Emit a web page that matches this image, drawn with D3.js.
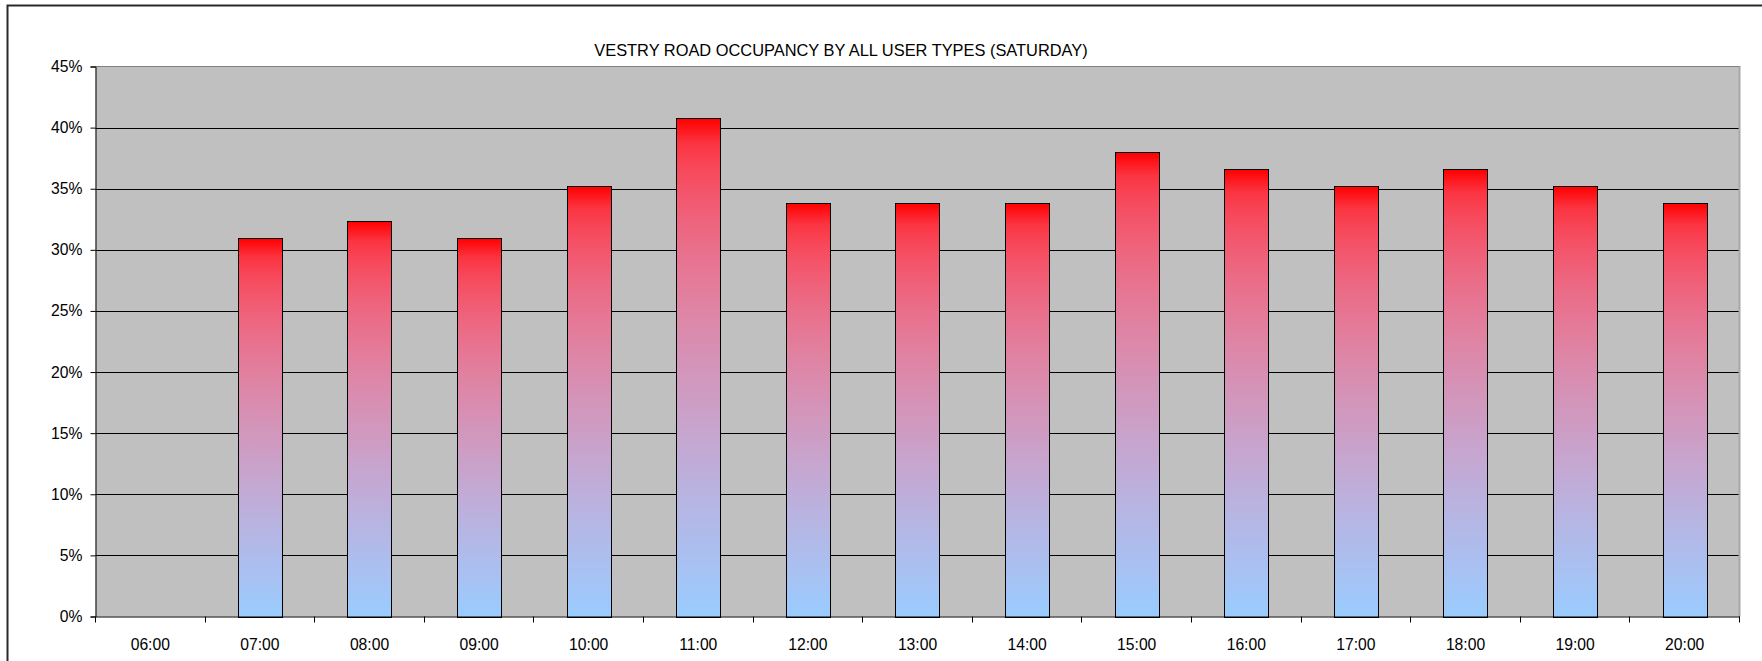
<!DOCTYPE html>
<html>
<head>
<meta charset="utf-8">
<script src="https://cdn.jsdelivr.net/npm/d3@7"></script>
<style>
  html, body { margin: 0; padding: 0; background: #ffffff; }
  svg { display: block; }
  text { font-family: Arial, "Liberation Sans", sans-serif; fill: #000; }
</style>
</head>
<body>
<svg id="chart" width="1762" height="661"></svg>
<script>
// Hourly occupancy, Saturday
const title = "VESTRY ROAD OCCUPANCY BY ALL USER TYPES (SATURDAY)";
const hours = ["06:00", "07:00", "08:00", "09:00", "10:00", "11:00", "12:00", "13:00",
               "14:00", "15:00", "16:00", "17:00", "18:00", "19:00", "20:00"];
const occupancy = [null, 0.310, 0.324, 0.310, 0.352, 0.408, 0.338, 0.338,
                   0.338, 0.380, 0.366, 0.352, 0.366, 0.352, 0.338];
const yTicks = [0, 0.05, 0.10, 0.15, 0.20, 0.25, 0.30, 0.35, 0.40, 0.45];

const svg = d3.select("#chart");
const W = 1762, H = 661;
const tickFont = "15.7px";

// plot area
const plot = { left: 95.5, top: 66.5, right: 1739.5, bottom: 616.5 };

// outer chart frame (only the top and left edges fall inside the window)
svg.append("path")
  .attr("d", `M7.5,${H + 5} V5.5 H${W + 5}`)
  .attr("fill", "none")
  .attr("stroke", "#2a2a2a")
  .attr("stroke-width", 2);

svg.append("text")
  .attr("x", 841)
  .attr("y", 56)
  .attr("text-anchor", "middle")
  .style("font-size", "16.4px")
  .text(title);

const pad = 0.595;
const x = d3.scaleBand()
  .domain(hours)
  .range([plot.left, plot.right])
  .paddingInner(pad)
  .paddingOuter(pad / 2);

const y = d3.scaleLinear()
  .domain([0, 0.45])
  .range([plot.bottom, plot.top]);

// plot background
svg.append("rect")
  .attr("x", plot.left).attr("y", plot.top)
  .attr("width", plot.right - plot.left)
  .attr("height", plot.bottom - plot.top)
  .attr("fill", "#c0c0c0");

// horizontal gridlines
svg.append("g")
  .selectAll("line")
  .data(yTicks.filter(t => t > 0 && t < 0.45))
  .join("line")
  .attr("x1", plot.left).attr("x2", plot.right)
  .attr("y1", d => Math.round(y(d)) + 0.5)
  .attr("y2", d => Math.round(y(d)) + 0.5)
  .attr("stroke", "#000")
  .attr("stroke-width", 1);

// plot border: grey top and right
svg.append("line")
  .attr("x1", plot.left).attr("x2", plot.right + 1)
  .attr("y1", plot.top).attr("y2", plot.top)
  .attr("stroke", "#808080").attr("stroke-width", 1);
svg.append("line")
  .attr("x1", plot.right).attr("x2", plot.right)
  .attr("y1", plot.top).attr("y2", plot.bottom)
  .attr("stroke", "#a8a8a8").attr("stroke-width", 2);

// red-to-blue fill, blended in linear light
const defs = svg.append("defs");
const grad = defs.append("linearGradient")
  .attr("id", "barFill")
  .attr("x1", 0).attr("y1", 0).attr("x2", 0).attr("y2", 1);
const blend = d3.interpolateRgb.gamma(2.2)("#ff0000", "#99ccff");
d3.range(0, 1.0001, 0.05).forEach(t => {
  grad.append("stop")
    .attr("offset", t)
    .attr("stop-color", blend(t));
});

// bars
svg.append("g")
  .selectAll("rect")
  .data(hours.map((h, i) => ({ hour: h, value: occupancy[i] })).filter(d => d.value != null))
  .join("rect")
  .attr("x", d => Math.round(x(d.hour)) + 0.5)
  .attr("y", d => Math.round(y(d.value)) + 0.5)
  .attr("width", Math.round(x.bandwidth()))
  .attr("height", d => Math.round(y(0)) - Math.round(y(d.value)))
  .attr("fill", "url(#barFill)")
  .attr("stroke", "#000")
  .attr("stroke-width", 1);

// y axis
const yAxis = d3.axisLeft(y)
  .tickValues(yTicks)
  .tickSize(5)
  .tickPadding(8)
  .tickFormat(d => Math.round(d * 100) + "%");
const gy = svg.append("g")
  .attr("transform", `translate(${plot.left},0)`)
  .call(yAxis);
gy.select(".domain").attr("stroke", "#000");
gy.selectAll(".tick line").attr("stroke", "#000");
gy.selectAll(".tick text")
  .style("font-size", tickFont)
  .style("font-family", "Arial, 'Liberation Sans', sans-serif")
  .attr("fill", "#000");

// x axis: labels centred on categories, ticks on category boundaries
const xAxis = d3.axisBottom(x).tickSize(0).tickPadding(22);
const gx = svg.append("g")
  .attr("transform", `translate(0,${plot.bottom})`)
  .call(xAxis);
gx.select(".domain").attr("stroke", "#000");
gx.selectAll(".tick text")
  .style("font-size", tickFont)
  .style("font-family", "Arial, 'Liberation Sans', sans-serif")
  .attr("fill", "#000");

const step = x.step();
const boundaries = hours.map(h => x(h) - step * pad / 2);
boundaries.push(plot.right);
gx.append("g")
  .selectAll("line")
  .data(boundaries)
  .join("line")
  .attr("x1", d => Math.round(d - 0.5) + 0.5)
  .attr("x2", d => Math.round(d - 0.5) + 0.5)
  .attr("y1", 0).attr("y2", 6)
  .attr("stroke", "#000");
</script>
</body>
</html>
